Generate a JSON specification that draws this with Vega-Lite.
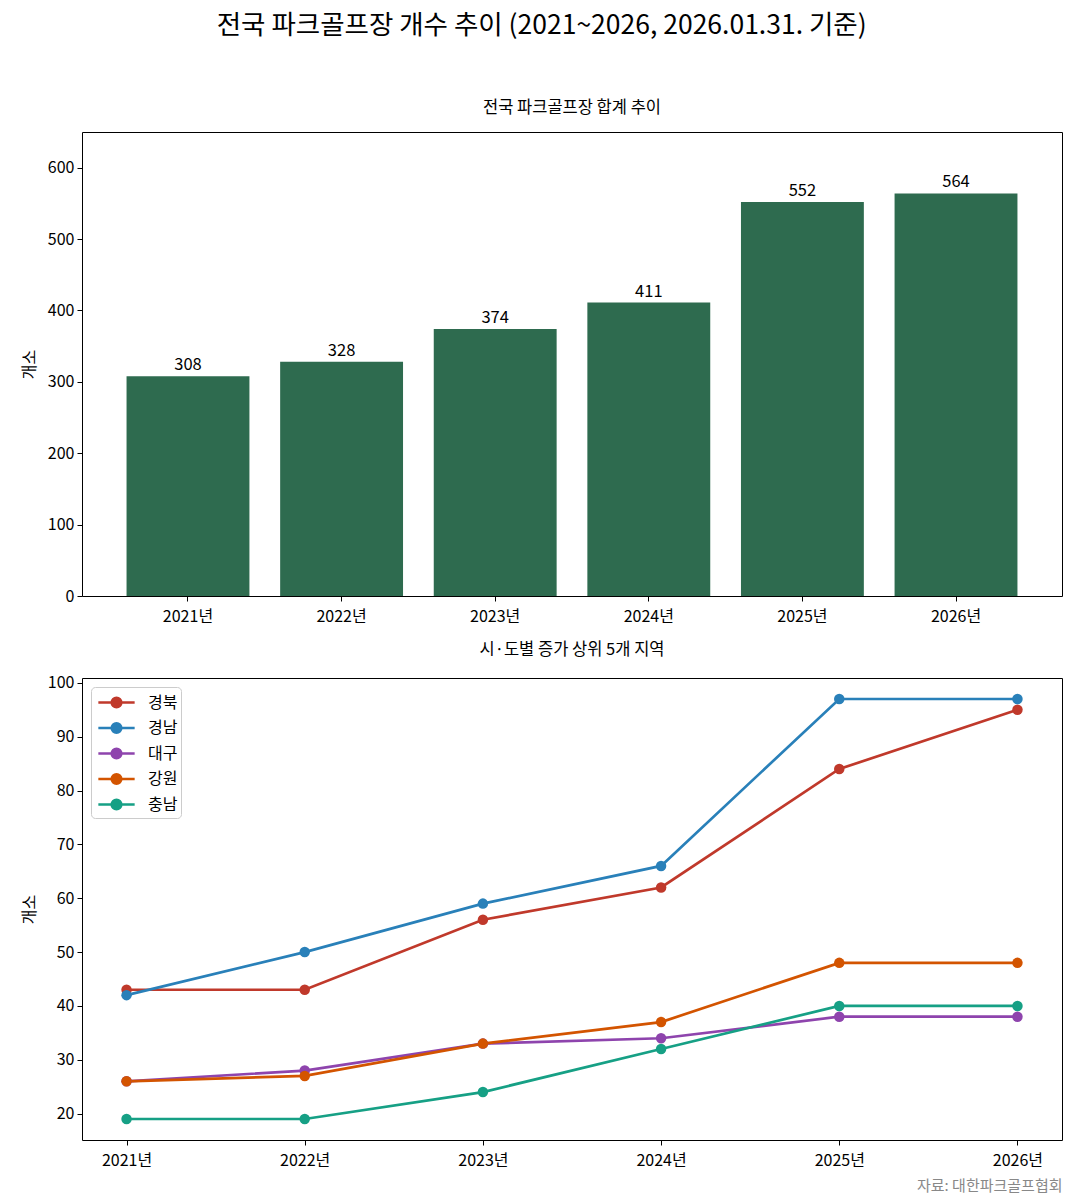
{
  "$schema": "https://vega.github.io/schema/vega-lite/v6.json",
  "background": "white",
  "padding": {"left": 20, "top": 12, "right": 8, "bottom": 5},
  "title": {
    "text": "전국 파크골프장 개수 추이 (2021~2026, 2026.01.31. 기준)",
    "font": "Noto Sans CJK KR",
    "fontSize": 26.5,
    "fontWeight": "normal",
    "color": "black",
    "anchor": "middle",
    "offset": 60
  },
  "config": {
    "font": "Noto Sans CJK KR",
    "view": {"stroke": "black", "strokeWidth": 1},
    "axis": {
      "labelFont": "Noto Sans CJK KR",
      "titleFont": "Noto Sans CJK KR",
      "labelFontSize": 16,
      "titleFontSize": 16,
      "titleFontWeight": "normal",
      "labelColor": "black",
      "titleColor": "black",
      "tickColor": "black",
      "domain": false,
      "grid": false,
      "tickSize": 5,
      "labelPadding": 3
    },
    "axisX": {"labelPadding": 7},
    "title": {"font": "Noto Sans CJK KR", "fontSize": 16.5, "fontWeight": "normal", "color": "black", "offset": 16}
  },
  "datasets": {
    "total": [
      {"연도": "2021년", "개소": 308},
      {"연도": "2022년", "개소": 328},
      {"연도": "2023년", "개소": 374},
      {"연도": "2024년", "개소": 411},
      {"연도": "2025년", "개소": 552},
      {"연도": "2026년", "개소": 564}
    ],
    "region": [
      {"지역": "경북", "연도": "2021년", "개소": 43},
      {"지역": "경북", "연도": "2022년", "개소": 43},
      {"지역": "경북", "연도": "2023년", "개소": 56},
      {"지역": "경북", "연도": "2024년", "개소": 62},
      {"지역": "경북", "연도": "2025년", "개소": 84},
      {"지역": "경북", "연도": "2026년", "개소": 95},
      {"지역": "경남", "연도": "2021년", "개소": 42},
      {"지역": "경남", "연도": "2022년", "개소": 50},
      {"지역": "경남", "연도": "2023년", "개소": 59},
      {"지역": "경남", "연도": "2024년", "개소": 66},
      {"지역": "경남", "연도": "2025년", "개소": 97},
      {"지역": "경남", "연도": "2026년", "개소": 97},
      {"지역": "대구", "연도": "2021년", "개소": 26},
      {"지역": "대구", "연도": "2022년", "개소": 28},
      {"지역": "대구", "연도": "2023년", "개소": 33},
      {"지역": "대구", "연도": "2024년", "개소": 34},
      {"지역": "대구", "연도": "2025년", "개소": 38},
      {"지역": "대구", "연도": "2026년", "개소": 38},
      {"지역": "강원", "연도": "2021년", "개소": 26},
      {"지역": "강원", "연도": "2022년", "개소": 27},
      {"지역": "강원", "연도": "2023년", "개소": 33},
      {"지역": "강원", "연도": "2024년", "개소": 37},
      {"지역": "강원", "연도": "2025년", "개소": 48},
      {"지역": "강원", "연도": "2026년", "개소": 48},
      {"지역": "충남", "연도": "2021년", "개소": 19},
      {"지역": "충남", "연도": "2022년", "개소": 19},
      {"지역": "충남", "연도": "2023년", "개소": 24},
      {"지역": "충남", "연도": "2024년", "개소": 32},
      {"지역": "충남", "연도": "2025년", "개소": 40},
      {"지역": "충남", "연도": "2026년", "개소": 40}
    ]
  },
  "spacing": 16,
  "resolve": {"legend": {"color": "independent"}, "scale": {"color": "independent"}},
  "vconcat": [
    {
      "title": "전국 파크골프장 합계 추이",
      "width": 980,
      "height": 464,
      "data": {"name": "total"},
      "encoding": {
        "x": {
          "field": "연도", "type": "ordinal", "title": null,
          "scale": {"paddingInner": 0.2, "paddingOuter": 0.29},
          "axis": {"labelAngle": 0}
        },
        "y": {
          "field": "개소", "type": "quantitative", "title": "개소",
          "scale": {"domain": [0, 650], "nice": false},
          "axis": {"values": [0, 100, 200, 300, 400, 500, 600], "titlePadding": 10}
        }
      },
      "layer": [
        {"mark": {"type": "bar", "color": "#2e6b4f"}},
        {
          "mark": {"type": "text", "baseline": "bottom", "dy": -3, "fontSize": 16.5, "color": "black"},
          "encoding": {"text": {"field": "개소", "type": "quantitative"}}
        }
      ]
    },
    {
      "title": "시·도별 증가 상위 5개 지역",
      "width": 980,
      "height": 462,
      "data": {"name": "region"},
      "encoding": {
        "x": {
          "field": "연도", "type": "ordinal",
          "scale": {"type": "point", "padding": 0.25},
          "axis": {
            "labelAngle": 0,
            "title": "자료: 대한파크골프협회",
            "titleAnchor": "end",
            "titleAlign": "right",
            "titleColor": "#888888",
            "titleFontSize": 15,
            "titlePadding": 10
          }
        },
        "y": {
          "field": "개소", "type": "quantitative", "title": "개소",
          "scale": {"domain": [15.1, 100.9], "nice": false, "zero": false},
          "axis": {"values": [20, 30, 40, 50, 60, 70, 80, 90, 100], "titlePadding": 10}
        },
        "color": {
          "field": "지역", "type": "nominal",
          "sort": ["경북", "경남", "대구", "강원", "충남"],
          "scale": {
            "domain": ["경북", "경남", "대구", "강원", "충남"],
            "range": ["#c0392b", "#2980b9", "#8e44ad", "#d35400", "#16a085"]
          },
          "legend": {
            "title": null,
            "orient": "top-left",
            "offset": 9,
            "labelFontSize": 16,
            "labelFont": "Noto Sans CJK KR",
            "labelColor": "black",
            "symbolType": "M-1.65,0L1.65,0M-0.43,0A0.43,0.43,0,1,1,0.43,0A0.43,0.43,0,1,1,-0.43,0Z",
            "symbolSize": 484,
            "symbolStrokeWidth": 2.7,
            "symbolOffset": 10,
            "labelOffset": 19,
            "rowPadding": 2.5,
            "padding": 3,
            "strokeColor": "#cccccc",
            "fillColor": "white",
            "cornerRadius": 4,
            "encode": {
              "symbols": {"update": {"fill": {"scale": "color", "field": "value"}, "stroke": {"scale": "color", "field": "value"}, "opacity": {"value": 1}}}
            }
          }
        }
      },
      "layer": [
        {"mark": {"type": "line", "strokeWidth": 2.7}},
        {"mark": {"type": "point", "filled": true, "size": 110, "opacity": 1}}
      ]
    }
  ]
}
